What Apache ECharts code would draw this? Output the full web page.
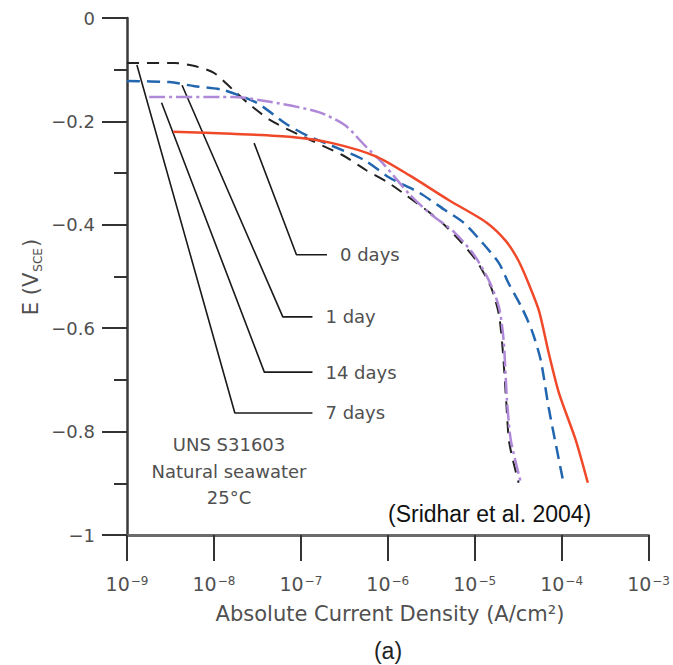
<!DOCTYPE html>
<html>
<head>
<meta charset="utf-8">
<script src="https://cdn.jsdelivr.net/npm/echarts@6/dist/echarts.min.js"></script>
<style>html,body{margin:0;padding:0;background:#fff;}#chart{width:673px;height:665px;}</style>
</head>
<body>
<div id="chart"></div>
<script>
// ---- data (current density A/cm2, potential V_SCE) ----
const day0I = [3.4e-9, 1.6e-8, 7.9e-8, 2.3e-7, 7.4e-7, 1.8e-6, 5.0e-6, 1.35e-5, 2.3e-5, 3.2e-5, 4.2e-5, 5.5e-5, 7.1e-5, 9.3e-5, 1.45e-4, 2.0e-4];
const day0E = [-0.220, -0.224, -0.230, -0.242, -0.268, -0.305, -0.352, -0.395, -0.432, -0.470, -0.515, -0.567, -0.648, -0.725, -0.816, -0.899];

const day1I = [1e-9, 3.1e-9, 6.0e-9, 1.26e-8, 3.1e-8, 6.8e-8, 1.2e-7, 2.2e-7, 5.4e-7, 1.05e-6, 2.3e-6, 4.5e-6, 7.6e-6, 1.2e-5, 1.9e-5, 2.45e-5, 3.5e-5, 4.6e-5, 5.75e-5, 7.1e-5, 1.05e-4];
const day1E = [-0.122, -0.124, -0.132, -0.139, -0.164, -0.205, -0.228, -0.246, -0.275, -0.309, -0.338, -0.371, -0.397, -0.433, -0.474, -0.513, -0.561, -0.607, -0.662, -0.754, -0.899];

const day14I = [1.8e-9, 1.66e-8, 4.4e-8, 1.6e-7, 3.2e-7, 5.4e-7, 9.1e-7, 1.8e-6, 3.0e-6, 5.8e-6, 9.8e-6, 1.45e-5, 1.9e-5, 2.15e-5, 2.35e-5, 2.6e-5, 3.4e-5];
const day14E = [-0.153, -0.153, -0.162, -0.182, -0.207, -0.246, -0.284, -0.342, -0.377, -0.414, -0.458, -0.507, -0.559, -0.623, -0.739, -0.816, -0.899];

const day7I = [1e-9, 3.5e-9, 6.0e-9, 1.0e-8, 1.66e-8, 2.6e-8, 4.4e-8, 9.5e-8, 3.0e-7, 5.6e-7, 9.8e-7, 1.6e-6, 3.9e-6, 6.6e-6, 1.07e-5, 1.55e-5, 1.9e-5, 2.1e-5, 2.3e-5, 2.5e-5, 3.2e-5];
const day7E = [-0.087, -0.087, -0.093, -0.106, -0.139, -0.168, -0.197, -0.226, -0.265, -0.294, -0.317, -0.342, -0.391, -0.429, -0.472, -0.522, -0.574, -0.642, -0.739, -0.822, -0.899];

// leader lines (annotation callouts), in data coordinates
const lead0I = [2.9e-8, 8.9e-8, 2.0e-7];   const lead0E = [-0.242, -0.458, -0.458];
const lead1I = [4.3e-9, 6.2e-8, 1.36e-7];  const lead1E = [-0.130, -0.578, -0.578];
const lead14I = [2.5e-9, 3.8e-8, 1.36e-7]; const lead14E = [-0.164, -0.685, -0.685];
const lead7I = [1.3e-9, 1.74e-8, 1.36e-7]; const lead7E = [-0.091, -0.764, -0.764];

const leadLabels = ['0 days', '1 day', '14 days', '7 days'];
const noteLines = ['UNS S31603', 'Natural seawater', '25\u00B0C'];
const sourceText = '(Sridhar et al. 2004)';
const xTitle = 'Absolute Current Density (A/cm\u00B2)';
const panelLabel = '(a)';

const zip = (a, b) => a.map((v, i) => [v, b[i]]);
const GRAY = '#505050';
const FONT = 'DejaVu Sans';

function curve(name, I, E, color, type, width) {
  return {
    name, type: 'line', data: zip(I, E), symbol: 'none', smooth: 0.25,
    silent: true, lineStyle: { color, width, type, cap: 'butt' }, z: 3
  };
}
function leader(I, E, label) {
  return {
    type: 'line', data: zip(I, E), symbol: 'none', silent: true, z: 2,
    lineStyle: { color: '#1a1a1a', width: 1.6 },
    endLabel: { show: true, formatter: label, distance: 13, color: GRAY, fontFamily: FONT, fontSize: 18 }
  };
}

const chart = echarts.init(document.getElementById('chart'), null, { renderer: 'svg' });
chart.setOption({
  animation: false,
  backgroundColor: '#fff',
  grid: { left: 127, right: 23, top: 18, bottom: 130 },
  xAxis: {
    type: 'log', logBase: 10, min: 1e-9, max: 1e-3, splitNumber: 6,
    axisLine: { onZero: false, lineStyle: { color: '#6a6a6a', width: 3 } },
    axisTick: { show: true, length: 26, lineStyle: { color: '#333', width: 2 } },
    minorTick: { show: false },
    splitLine: { show: false },
    axisLabel: {
      margin: 37,
      formatter: v => '{b|10}{s|\u2212' + Math.abs(Math.round(Math.log10(v))) + '}',
      rich: {
        b: { fontFamily: FONT, fontSize: 19, color: GRAY, lineHeight: 24 },
        s: { fontFamily: FONT, fontSize: 12, color: GRAY, lineHeight: 12, verticalAlign: 'top', padding: [3, 0, 0, 1] }
      }
    }
  },
  yAxis: {
    type: 'value', min: -1, max: 0, interval: 0.2,
    axisLine: { onZero: false, lineStyle: { color: '#3a3a3a', width: 2.5 } },
    axisTick: { show: true, length: 25, lineStyle: { color: '#333', width: 2 } },
    minorTick: { show: true, splitNumber: 2, length: 13, lineStyle: { color: '#333', width: 2 } },
    splitLine: { show: false },
    axisLabel: {
      margin: 32, fontFamily: FONT, fontSize: 18, color: GRAY,
      formatter: v => (Math.abs(v) < 1e-9 ? '0' : '\u2212' + String(Math.abs(+v.toFixed(1))))
    }
  },
  series: [
    curve('7 days', day7I, day7E, '#222222', [12, 8], 2),
    curve('1 day', day1I, day1E, '#2266b0', [13, 7], 2.5),
    curve('14 days', day14I, day14E, '#b088d8', [16, 4, 3, 4], 2.5),
    curve('0 days', day0I, day0E, '#f0492a', 'solid', 2.5),
    leader(lead0I, lead0E, leadLabels[0]),
    leader(lead1I, lead1E, leadLabels[1]),
    leader(lead14I, lead14E, leadLabels[2]),
    leader(lead7I, lead7E, leadLabels[3])
  ],
  graphic: [
    {
      type: 'text', x: 31, y: 277, rotation: Math.PI / 2,
      style: {
        text: '{a|E (V}{b|SCE}{a|)}',
        align: 'center', verticalAlign: 'middle', textAlign: 'center', textVerticalAlign: 'middle',
        rich: {
          a: { fontFamily: FONT, fontSize: 21, fill: GRAY, color: GRAY, lineHeight: 26 },
          b: { fontFamily: FONT, fontSize: 12, fill: GRAY, color: GRAY, lineHeight: 12, verticalAlign: 'bottom', padding: [0, 1, 0, 1] }
        }
      }
    },
    {
      type: 'text', x: 229, y: 471,
      style: {
        text: noteLines.join('\n'), fontFamily: FONT, fontSize: 18, lineHeight: 26.5, fill: GRAY,
        align: 'center', verticalAlign: 'middle', textAlign: 'center', textVerticalAlign: 'middle'
      }
    },
    {
      type: 'text', x: 388, y: 514,
      style: {
        text: sourceText, fontFamily: 'Liberation Sans', fontSize: 23, fill: '#111',
        align: 'left', verticalAlign: 'middle', textAlign: 'left', textVerticalAlign: 'middle'
      }
    },
    {
      type: 'text', x: 390, y: 614,
      style: {
        text: xTitle, fontFamily: FONT, fontSize: 21, fill: GRAY,
        align: 'center', verticalAlign: 'middle', textAlign: 'center', textVerticalAlign: 'middle'
      }
    },
    {
      type: 'text', x: 388, y: 651,
      style: {
        text: panelLabel, fontFamily: 'Liberation Sans', fontSize: 23, fill: '#222',
        align: 'center', verticalAlign: 'middle', textAlign: 'center', textVerticalAlign: 'middle'
      }
    }
  ]
});
</script>
</body>
</html>
